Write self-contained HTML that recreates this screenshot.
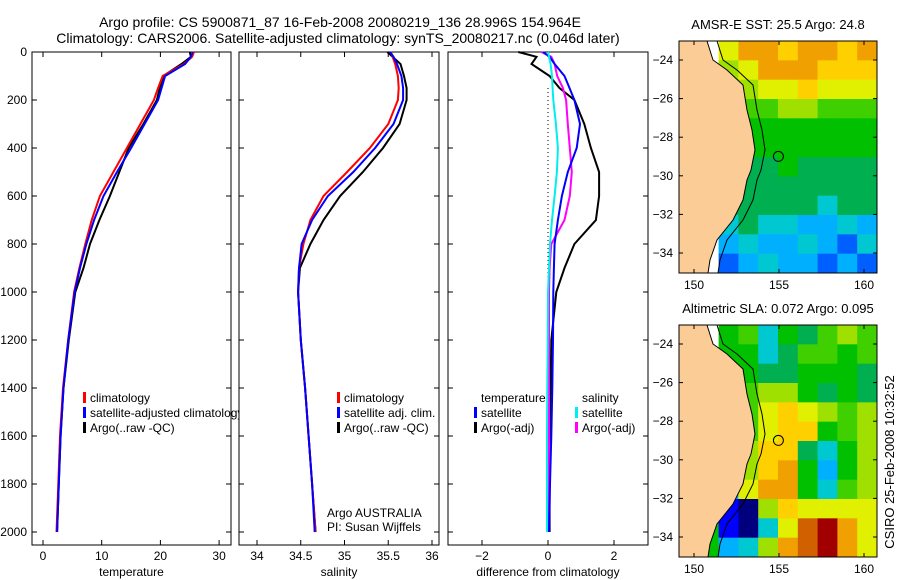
<!DOCTYPE html>
<html><head><meta charset="utf-8">
<style>
html,body{margin:0;padding:0;background:#fff;}
svg{display:block;font-family:"Liberation Sans",sans-serif;}
text{font-size:12px;fill:#000;}
</style></head>
<body>
<svg id="fig" width="900" height="580" viewBox="0 0 900 580" xmlns="http://www.w3.org/2000/svg">
<text x="340" y="27" text-anchor="middle" style="font-size:14px">Argo profile: CS 5900871_87 16-Feb-2008 20080219_136 28.996S 154.964E</text>
<text x="338" y="43" text-anchor="middle" style="font-size:14px">Climatology: CARS2006. Satellite-adjusted climatology: synTS_20080217.nc (0.046d later)</text>
<g id="layer"></g>
</svg>
<script>
// ---- profile data ----
const depths = [0,20,50,100,150,200,300,400,500,600,700,800,900,1000,1200,1400,1600,1800,2000];
const tempClim = [25.7,25.4,24.0,20.4,19.6,18.9,16.6,14.3,12.0,9.7,8.3,7.2,6.2,5.3,4.3,3.4,2.9,2.6,2.3];
const tempSat  = [25.5,25.2,24.2,20.8,20.2,19.6,17.3,15.0,12.6,10.3,8.7,7.4,6.3,5.4,4.3,3.5,3.0,2.7,2.4];
const tempArgo = [25.0,25.2,23.6,20.5,19.9,19.4,17.1,14.6,13.0,11.4,9.6,8.0,6.9,5.5,4.4,3.5,3.0,2.7,2.4];
const salClim = [35.53,35.55,35.58,35.61,35.62,35.61,35.50,35.29,35.03,34.76,34.61,34.53,34.48,34.47,34.50,34.55,34.59,34.63,34.67];
const salSat  = [35.52,35.56,35.60,35.65,35.67,35.67,35.56,35.35,35.10,34.81,34.63,34.51,34.48,34.47,34.50,34.55,34.59,34.63,34.66];
const salArgo = [35.49,35.55,35.64,35.68,35.71,35.71,35.63,35.44,35.21,34.95,34.76,34.61,34.49,34.47,34.50,34.55,34.59,34.63,34.67];
const diffTempSat  = [-0.15,0.05,0.2,0.5,0.65,0.8,0.97,0.87,0.6,0.42,0.3,0.2,0.18,0.16,0.15,0.13,0.1,0.06,0.03];
const diffTempArgo = [-0.9,-0.35,-0.5,0.05,0.35,0.8,1.1,1.3,1.55,1.55,1.45,0.8,0.5,0.25,0.1,0.08,0.06,0.05,0.05];
const diffSalSat   = [0.0,0.03,0.08,0.12,0.14,0.16,0.24,0.3,0.27,0.2,0.12,0.06,0.03,0.0,-0.01,-0.02,-0.03,-0.03,-0.03];
const diffSalArgo  = [-0.2,0.1,0.2,0.28,0.45,0.55,0.6,0.66,0.72,0.66,0.5,0.1,0.05,0.03,0.03,0.03,0.03,0.03,0.03];
const depthTicks = [0,200,400,600,800,1000,1200,1400,1600,1800,2000];
const tempTicks = [0,10,20,30];
const salTicks = [34,34.5,35,35.5,36];
const salTickLabels = ["34","34.5","35","35.5","36"];
const diffTicks = [-2,0,2];
// ---- map data (colour index rows, '.' = land) ----
const sstRows = ["..9bbabbab","..89bbbaaa","..7899a999","..67788777","..66666666","..66666666","..55565555","..55555555","..55555455","..45443343","..34334324","..23433232"];
const slaRows = ["..67465787","..66457767","..66556665","..67886565","..679a9878","..679aa678","..68aa5468","..68ab6368",".639bb6478",".6108a9999",".61049cdb9",".6348bcdb9"];
const lonTicks = [150,155,160];
const latTicks = [-24,-26,-28,-30,-32,-34];
const palette = ['#00007f','#0000ff','#0060ff','#00b0ff','#00c8d0','#00b050','#00c000','#40d000','#a0e000','#e0f000','#ffd000','#f0a000','#d06000','#a00000'];

const NS='http://www.w3.org/2000/svg';
const layer=document.getElementById('layer');
function mk(tag,attrs,parent){const e=document.createElementNS(NS,tag);for(const k in attrs)e.setAttribute(k,attrs[k]);(parent||layer).appendChild(e);return e;}
function txt(x,y,s,anchor,parent){const t=mk('text',{x:x,y:y,'text-anchor':anchor||'start'},parent);t.textContent=s;return t;}

const yTop=52, pxPerM=0.24, yBot=545;
const yOfDepth=d=>yTop+d*pxPerM;

function panel(name,x0,x1,xScale,ticks,labels,xlabel){
  const g=mk('g',{});
  
  
  const r=mk('rect',{x:x0,y:yTop,width:x1-x0,height:yBot-yTop,fill:'#fff',stroke:'#000','stroke-width':1},g);
  
  
  ticks.forEach((v,i)=>{const x=xScale(v);
    mk('line',{x1:x,y1:yBot,x2:x,y2:yBot-5,stroke:'#000'},g);
    mk('line',{x1:x,y1:yTop,x2:x,y2:yTop+5,stroke:'#000'},g);
    const t=txt(x,560,labels[i],'middle',g);
    
    
  });
  depthTicks.forEach(d=>{const y=yOfDepth(d);
    mk('line',{x1:x0,y1:y,x2:x0+5,y2:y,stroke:'#000'},g);
    mk('line',{x1:x1,y1:y,x2:x1-5,y2:y,stroke:'#000'},g);
  });
  const xl=txt((x0+x1)/2,576,xlabel,'middle',g);
  
  
  return g;
}
function series(g,vals,xScale,color,name,w){
  const pts=vals.map((v,i)=>xScale(v).toFixed(1)+','+yOfDepth(depths[i]).toFixed(1)).join(' ');
  const p=mk('polyline',{points:pts,fill:'none',stroke:color,'stroke-width':w||2},g);
  
  
}
function legend(g,x,y,color,label){
  if(color) mk('rect',{x:x-7,y:y-10,width:3,height:11,fill:color},g);
  const t=txt(x,y,label,'start',g);
  
  
}

// Panel 1 temperature
const xT=v=>43+v*5.87;
const g1=panel('temperature',32,231,xT,tempTicks,tempTicks.map(String),'temperature');
depthTicks.forEach(d=>{const t=txt(27,yOfDepth(d)+4,String(d),'end',g1);
  
  });
series(g1,tempArgo,xT,'#000','temp-argo-line');
series(g1,tempClim,xT,'#f00','temp-climatology-line');
series(g1,tempSat,xT,'#00f','temp-satellite-line');
legend(g1,90,402,'#f00','climatology');
legend(g1,90,417,'#00f','satellite-adjusted climatology');
legend(g1,90,432,'#000','Argo(..raw -QC)');

// Panel 2 salinity
const xS=v=>257+(v-34)*87.5;
const g2=panel('salinity',239,439,xS,salTicks,salTickLabels,'salinity');
series(g2,salArgo,xS,'#000','sal-argo-line');
series(g2,salClim,xS,'#f00','sal-climatology-line');
series(g2,salSat,xS,'#00f','sal-satellite-line');
legend(g2,344,402,'#f00','climatology');
legend(g2,344,417,'#00f','satellite adj. clim.');
legend(g2,344,432,'#000','Argo(..raw -QC)');
legend(g2,327,517,null,'Argo AUSTRALIA');
legend(g2,327,531,null,'PI: Susan Wijffels');

// Panel 3 differences
const xD=v=>548+v*33;
const g3=panel('difference',448,648,xD,diffTicks,diffTicks.map(v=>v<0?'\u2212'+(-v):String(v)),'difference from climatology');
mk('line',{x1:xD(0),y1:yOfDepth(150),x2:xD(0),y2:yOfDepth(2000),stroke:'#000','stroke-dasharray':'1,3'},g3);
series(g3,diffTempArgo,xD,'#000','diff-temp-argo-line');
series(g3,diffSalArgo,xD,'#f0f','diff-sal-argo-line');
series(g3,diffTempSat,xD,'#00f','diff-temp-satellite-line');
series(g3,diffSalSat,xD,'#0ee','diff-sal-satellite-line');
legend(g3,481,402,null,'temperature');
legend(g3,481,417,'#00f','satellite');
legend(g3,481,432,'#000','Argo(-adj)');
legend(g3,582,402,null,'salinity');
legend(g3,582,417,'#0ee','satellite');
legend(g3,582,432,'#f0f','Argo(-adj)');

// Maps
const coast=[[707,0],[713,19],[727,29],[743,44],[747,69],[752,89],[755,109],[751,129],[747,139],[743,159],[733,179],[717,199],[710,219],[708,232]];
function map(name,y0,rows,title){
  const x0=679,x1=877,h=232;
  const g=mk('g',{});
  
  
  const lonX=l=>694+(l-150)*17;
  const latY=l=>y0+19+(-24-l)*19.3;
  const cw=(x1-x0)/10, ch=h/12;
  rows.forEach((row,r)=>{for(let c=0;c<10;c++){const k=row[c];if(k==='.'||k===undefined)continue;
    const idx=parseInt(k,16);
    const cell=mk('rect',{x:x0+c*cw,y:y0+r*ch,width:cw+0.5,height:ch+0.5,fill:palette[idx]},g);
    
    }});
  const landPts=[[x0,0]].concat(coast).concat([[x0,h]]).map(p=>(p[0])+','+(y0+p[1])).join(' ');
  const land=mk('polygon',{points:landPts,fill:'#fccc96',stroke:'#000','stroke-width':1},g);
  
  
  const iso=coast.map(p=>(p[0]+10)+','+(y0+p[1])).join(' ');
  const il=mk('polyline',{points:iso,fill:'none',stroke:'#000','stroke-width':1},g);
  
  
  const ring=mk('circle',{cx:lonX(154.964),cy:latY(-28.996),r:5,fill:'none',stroke:'#000'},g);
  
  
  mk('rect',{x:x0,y:y0,width:x1-x0,height:h,fill:'none',stroke:'#000'},g);
  lonTicks.forEach(l=>{const x=lonX(l);mk('line',{x1:x,y1:y0,x2:x,y2:y0+4,stroke:'#000'},g);mk('line',{x1:x,y1:y0+h,x2:x,y2:y0+h-4,stroke:'#000'},g);
    const t=txt(x,y0+h+16,String(l),'middle',g);});
  latTicks.forEach(l=>{const y=latY(l);mk('line',{x1:x0,y1:y,x2:x0+4,y2:y,stroke:'#000'},g);mk('line',{x1:x1,y1:y,x2:x1-4,y2:y,stroke:'#000'},g);
    const t=txt(x0-6,y+4,'\u2212'+(-l),'end',g);});
  const tt=txt(778,y0-12,title,'middle',g);
  tt.setAttribute('style','font-size:13px');
  
  
}
map('sst',41,sstRows,'AMSR-E SST: 25.5 Argo: 24.8');
map('sla',325,slaRows,'Altimetric SLA: 0.072 Argo: 0.095');
const stamp=txt(0,0,'CSIRO 25-Feb-2008 10:32:52','middle');
stamp.setAttribute('transform','translate(894,462) rotate(-90)');
stamp.setAttribute('style','font-size:13px');


</script>
</body></html>
